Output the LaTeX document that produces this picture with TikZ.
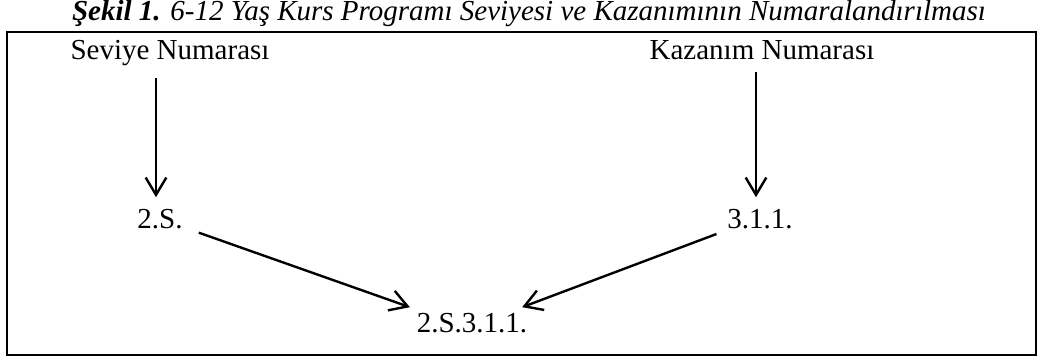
\documentclass[tikz,border=0pt]{standalone}
\usepackage{fontspec}
\setmainfont{Liberation Serif}
\usepackage{tikz}
\usetikzlibrary{arrows.meta}

\tikzset{
  lbl/.style={anchor=base,inner sep=0pt,font=\fontsize{21.75}{26}\selectfont},
  arr/.style={line width=1.8pt,-{Straight Barb[length=13pt,width=15.5pt,line width=1.8pt]}}
}

\begin{document}
\begin{tikzpicture}[x=0.75pt,y=0.75pt,yscale=-1,xscale=1]
\useasboundingbox (0,0) rectangle (1038,360);

%Frame
\draw [line width=1.5pt] (7,32) rectangle (1036,355) ;

% Text Node
\node [lbl] (title) at (529,21) {\itshape\textbf{Şekil 1.} 6-12 Yaş Kurs Programı Seviyesi ve Kazanımının Numaralandırılması};
% Text Node
\node [lbl] (sev) at (170,60) {Seviye Numarası};
% Text Node
\node [lbl] (kaz) at (762,60) {Kazanım Numarası};
% Text Node
\node [lbl] (s2) at (160,228) {2.S.};
% Text Node
\node [lbl] (k3) at (760,228) {3.1.1.};
% Text Node
\node [lbl] (fin) at (472,332) {2.S.3.1.1.};

%Straight Lines
\draw [arr] ([xshift=-3pt,yshift=8.8pt]sev.south -| s2.north) -- ([xshift=-3pt,yshift=-8.5pt]s2.north) ;
%Straight Lines
\draw [arr] ([xshift=-3pt,yshift=8.8pt]kaz.south -| k3.north) -- ([xshift=-3pt,yshift=-8.5pt]k3.north) ;
%Straight Lines
\draw [arr] ([xshift=12pt,yshift=3pt]s2.south east) -- ([xshift=-5pt,yshift=-4pt]fin.north west) ;
%Straight Lines
\draw [arr] ([xshift=-8pt,yshift=4pt]k3.south west) -- ([xshift=-4pt,yshift=-4pt]fin.north east) ;

\end{tikzpicture}
\end{document}
